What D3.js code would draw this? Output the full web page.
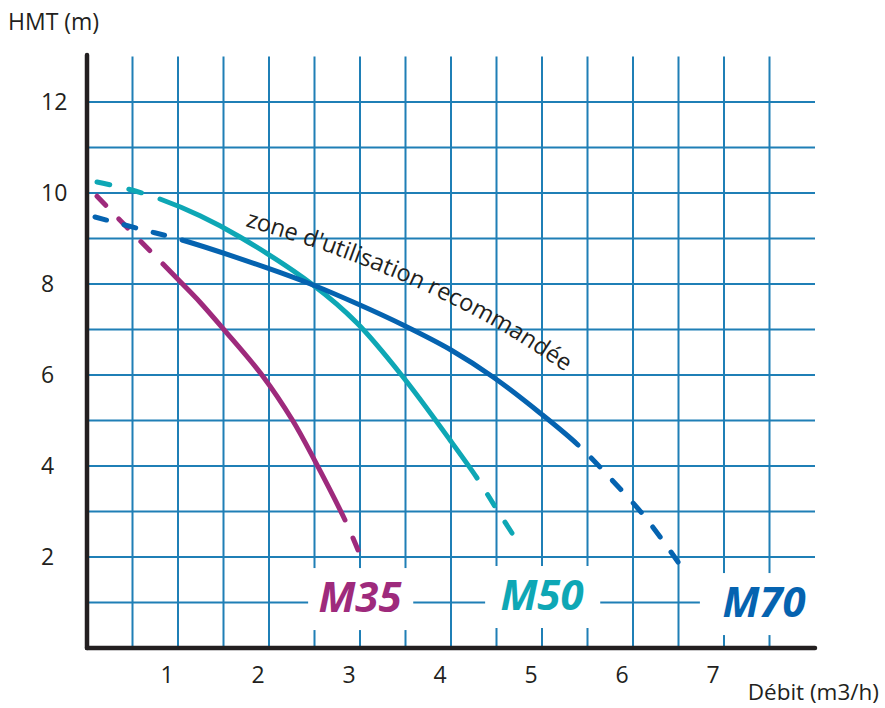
<!DOCTYPE html>
<html><head><meta charset="utf-8">
<script src="https://cdn.jsdelivr.net/npm/d3@7"></script>
<style>
html,body{margin:0;padding:0;background:#fff;}
svg{display:block;font-family:"Open Sans",sans-serif;}
</style></head><body>
<svg id="chart" width="885" height="708"></svg>
<script>
// ---------- data ----------
const xTickLabels = [1, 2, 3, 4, 5, 6, 7];
const yTickLabels = [2, 4, 6, 8, 10, 12];
const xGridValues = [0.5, 1, 1.5, 2, 2.5, 3, 3.5, 4, 4.5, 5, 5.5, 6, 6.5, 7, 7.5];
const yGridValues = [1, 2, 3, 4, 5, 6, 7, 8, 9, 10, 11, 12];
const seriesNames = ["M35", "M50", "M70"];

const m35Debit = [0.110, 0.500, 0.835, 1.020, 1.242, 1.495, 1.930, 2.260, 2.500, 2.835, 2.978];
const m35Hmt   = [9.930, 9.120, 8.440, 8.060, 7.600, 7.020, 5.980, 5.000, 4.130, 2.813, 2.154];
const m35Solid = [0.835, 2.835];

const m50Debit = [0.110, 0.451, 0.802, 1.242, 1.681, 2.484, 2.967, 3.473, 3.989, 4.286, 4.484, 4.670];
const m50Hmt   = [10.242, 10.088, 9.868, 9.500, 9.033, 7.978, 7.143, 5.956, 4.571, 3.736, 3.110, 2.527];
const m50Solid = [0.802, 4.286];

const m70Debit = [0.088, 0.582, 1.044, 1.978, 2.484, 3.000, 3.473, 4.000, 4.462, 4.978, 5.396, 5.769, 6.132, 6.495];
const m70Hmt   = [9.473, 9.209, 8.967, 8.352, 7.978, 7.538, 7.099, 6.550, 5.956, 5.165, 4.462, 3.692, 2.879, 1.890];
const m70Solid = [1.044, 5.396];

const zoneDebit = [1.736, 2.670, 3.659, 4.538, 5.275];
const zoneHmt   = [9.275, 8.681, 7.890, 6.989, 6.044];
const zoneText = "zone d'utilisation recommandée";

// ---------- layout ----------
const svg = d3.select("#chart");
const x = d3.scaleLinear().domain([0, 8]).range([87, 815]);
const y = d3.scaleLinear().domain([0, 13]).range([648, 56.5]);

const gridColor = "#1f7fb6";
const inkColor = "#231f20";
const colors = {M35: "#9e2a7c", M50: "#0ea7b5", M70: "#0563b0"};

const series = [
  {name: "M35", debit: m35Debit, hmt: m35Hmt, solid: m35Solid},
  {name: "M50", debit: m50Debit, hmt: m50Hmt, solid: m50Solid},
  {name: "M70", debit: m70Debit, hmt: m70Hmt, solid: m70Solid}
];

// grid
const grid = svg.append("g");
grid.selectAll("line.v").data(xGridValues).join("line")
  .attr("x1", d => x(d)).attr("x2", d => x(d))
  .attr("y1", y(0)).attr("y2", y(13))
  .attr("stroke", gridColor).attr("stroke-width", 2);
grid.selectAll("line.h").data(yGridValues).join("line")
  .attr("x1", x(0)).attr("x2", x(8))
  .attr("y1", d => y(d)).attr("y2", d => y(d))
  .attr("stroke", gridColor).attr("stroke-width", 2);

// label boxes (white knock-outs)
const labelLayout = {
  M35: {cx: 3.0,  base: 0.79, left: 2.43, right: 3.585},
  M50: {cx: 5.0,  base: 0.835, left: 4.375, right: 5.64},
  M70: {cx: 7.44, base: 0.68, left: 6.735, right: 8.1}
};
seriesNames.forEach(n => {
  const L = labelLayout[n];
  const yb = y(L.base);
  svg.append("rect")
    .attr("x", x(L.left)).attr("width", x(L.right) - x(L.left))
    .attr("y", yb - 44).attr("height", 62)
    .attr("fill", "#fff");
});

// curves
const line = d3.line().x(d => x(d[0])).y(d => y(d[1])).curve(d3.curveCatmullRom.alpha(0.5));
function lengthAtX(node, px) {
  let lo = 0, hi = node.getTotalLength();
  for (let i = 0; i < 40; i++) {
    const mid = (lo + hi) / 2;
    if (node.getPointAtLength(mid).x < px) lo = mid; else hi = mid;
  }
  return (lo + hi) / 2;
}
const dash = 12, gap = 18;
series.forEach(s => {
  const pts = s.debit.map((d, i) => [d, s.hmt[i]]);
  const p = svg.append("path")
    .attr("d", line(pts))
    .attr("fill", "none")
    .attr("stroke", colors[s.name])
    .attr("stroke-width", 5)
    .attr("stroke-linecap", "round");
  const node = p.node();
  const total = node.getTotalLength();
  const L1 = lengthAtX(node, x(s.solid[0]));
  const L2 = lengthAtX(node, x(s.solid[1]));
  const arr = [];
  const n1 = Math.max(1, Math.round(L1 / (dash + gap)));
  const k1 = L1 / (n1 * (dash + gap));
  for (let i = 0; i < n1; i++) arr.push(dash * k1, gap * k1);
  arr.push(L2 - L1);
  const L3 = total - L2;
  const n2 = Math.max(1, Math.round(L3 / (dash + gap)));
  const k2 = L3 / (n2 * (dash + gap));
  for (let i = 0; i < n2; i++) arr.push(gap * k2, dash * k2);
  arr.push(2000);
  p.attr("stroke-dasharray", arr.map(v => v.toFixed(2)).join(","));
});

// axes
svg.append("line").attr("x1", x(0)).attr("x2", x(0)).attr("y1", 55).attr("y2", y(0))
  .attr("stroke", inkColor).attr("stroke-width", 4.5).attr("stroke-linecap", "round");
svg.append("line").attr("x1", x(0)).attr("x2", x(8)).attr("y1", y(0)).attr("y2", y(0))
  .attr("stroke", inkColor).attr("stroke-width", 4.5).attr("stroke-linecap", "round");

// tick labels
svg.append("g").selectAll("text").data(xTickLabels).join("text")
  .attr("x", d => x(d) - 11).attr("y", 683)
  .attr("text-anchor", "middle").attr("font-size", 23).attr("fill", inkColor)
  .text(d => d);
svg.append("g").selectAll("text").data(yTickLabels).join("text")
  .attr("x", 41).attr("y", d => y(d) + 8)
  .attr("text-anchor", "start").attr("font-size", 23).attr("fill", inkColor)
  .text(d => d);

// axis titles
svg.append("text").attr("x", 8).attr("y", 30).attr("font-size", 23).attr("fill", inkColor).text("HMT (m)");
svg.append("text").attr("x", 879).attr("y", 700).attr("text-anchor", "end")
  .attr("font-size", 22.5).attr("fill", inkColor).text("Débit (m3/h)");

// series labels
seriesNames.forEach(n => {
  const L = labelLayout[n];
  svg.append("text")
    .attr("x", x(L.cx)).attr("y", y(L.base))
    .attr("text-anchor", "middle")
    .attr("font-size", 42).attr("font-weight", 700).attr("font-style", "italic")
    .attr("fill", colors[n])
    .text(n);
});

// zone annotation along curve
const zonePts = zoneDebit.map((d, i) => [zoneDebit[i], zoneHmt[i]]);
const zp = svg.append("defs").append("path").attr("id", "zonePath")
  .attr("d", line(zonePts));
const zText = svg.append("text").attr("font-size", 23).attr("fill", inkColor);
zText.append("textPath").attr("href", "#zonePath").text(zoneText);
const pathLen = zp.node().getTotalLength();
const natural = zText.node().getComputedTextLength();
if (natural > 0) {
  const fs = Math.max(18, Math.min(26, 23 * (pathLen - 2) / natural));
  zText.attr("font-size", fs);
}
</script>
</body></html>
